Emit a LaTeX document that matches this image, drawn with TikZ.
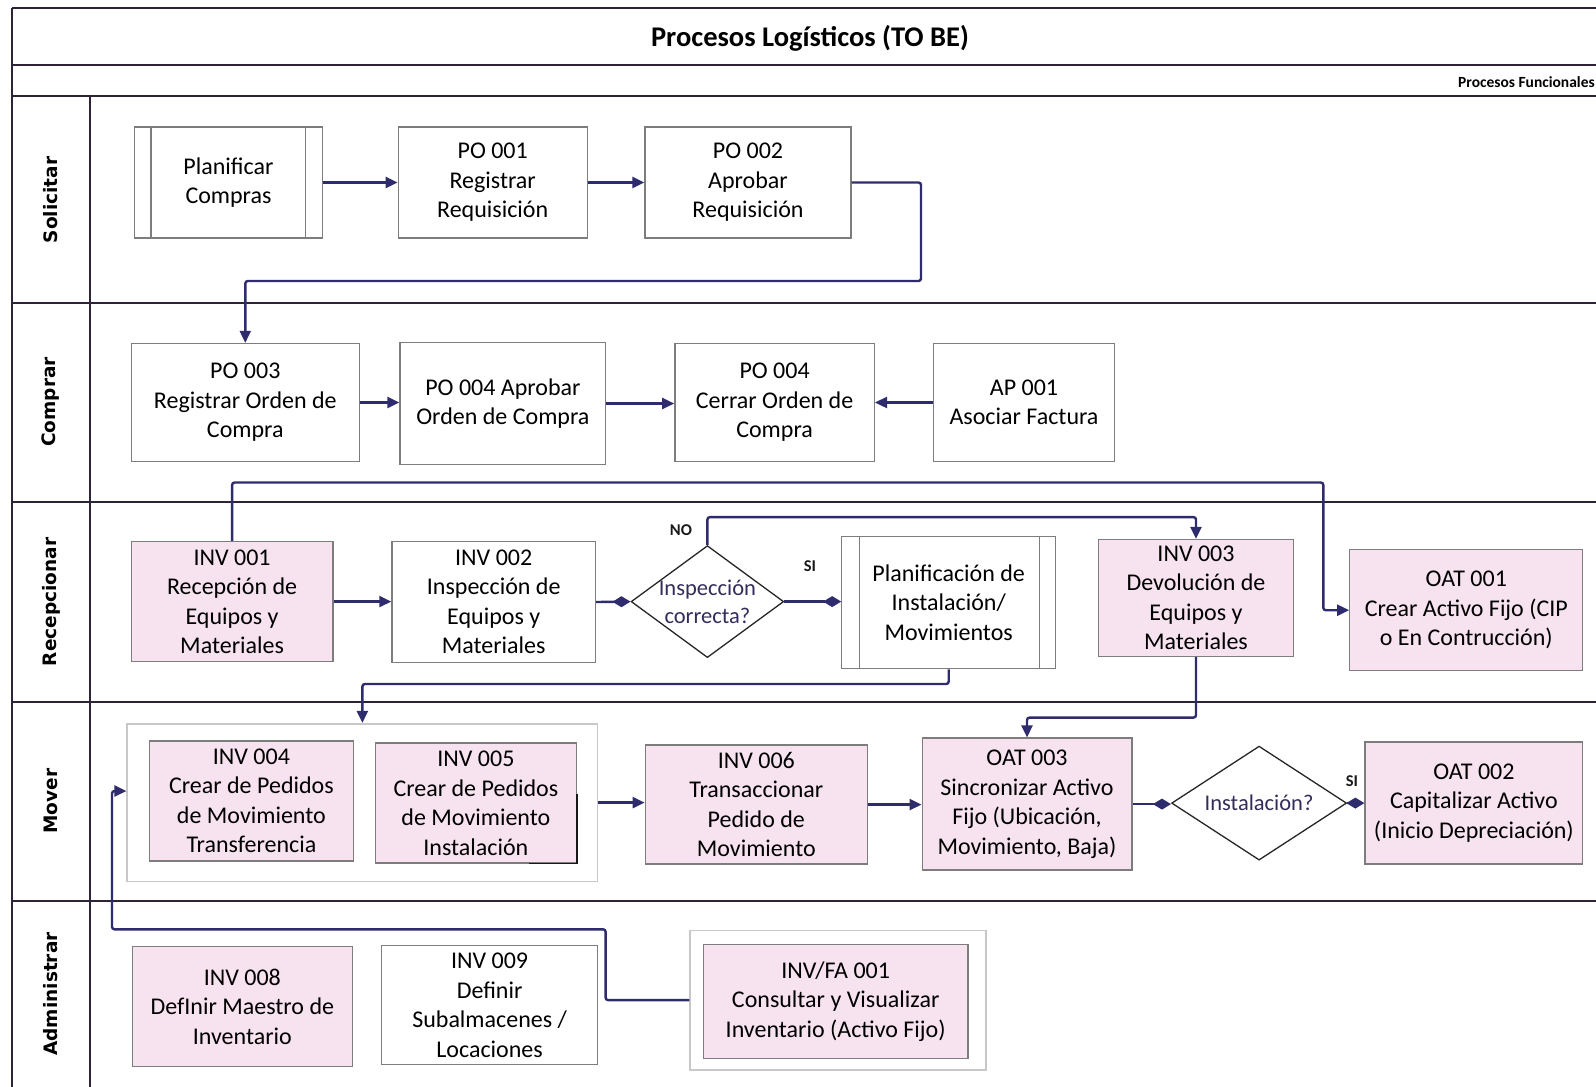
\documentclass[tikz,border=0pt]{standalone}
\usepackage{fontspec}
\setmainfont{Carlito}
\newfontfamily\lanefont{DejaVu Sans}
\usetikzlibrary{arrows.meta,shapes.geometric}

\definecolor{laneline}{RGB}{45,35,55}
\definecolor{navy}{RGB}{47,44,110}
\definecolor{boxgray}{RGB}{125,125,125}
\definecolor{pinkfill}{RGB}{247,227,239}
\definecolor{grpgray}{RGB}{200,200,200}
\definecolor{dtextcol}{RGB}{50,45,90}

\begin{document}
\begin{tikzpicture}[x=1pt,y=-1pt,
  lane/.style={draw=laneline,line width=2.4pt},
  conn/.style={draw=navy,line width=2.4pt,rounded corners=2.5pt},
  arr/.style={conn,-{Triangle[length=12pt,width=11pt]}},
  blob/.style={conn,-{Diamond[length=18pt,width=11pt]}},
  proc/.style={draw=boxgray,line width=1.3pt,fill=white,inner sep=0pt,
    align=center,font=\fontsize{24}{29.5}\selectfont},
  pinkproc/.style={proc,fill=pinkfill},
  frame/.style={draw=grpgray,line width=1.6pt,fill=white,inner sep=0pt},
  decision/.style={diamond,draw=black!85,line width=1.3pt,fill=white,inner sep=0pt},
  dtext/.style={align=center,text=dtextcol,font=\fontsize{22.5}{27.5}\selectfont},
  lanelabel/.style={rotate=90,font=\lanefont\bfseries\fontsize{18.5}{21}\selectfont},
  flag/.style={font=\bfseries\fontsize{16.5}{18}\selectfont,text=black!90}
]
\useasboundingbox (0,0) rectangle (1596,1087);
\begin{scope}
\clip (0,0) rectangle (1596,1087);

% ---- swimlane frame ----
\draw[lane] (12,8) -- (1596,8);
\draw[lane] (12,65) -- (1596,65);
\draw[lane] (12,96) -- (1596,96);
\draw[lane] (12,303) -- (1596,303);
\draw[lane] (12,502) -- (1596,502);
\draw[lane] (12,702) -- (1596,702);
\draw[lane] (12,901) -- (1596,901);
\draw[lane] (12,8) -- (12,1087);
\draw[lane] (90,96) -- (90,1087);

\node[font=\bfseries\fontsize{28.5}{32}\selectfont] (title) at (810,38.5) {Procesos Logísticos (TO BE)};
\node[anchor=west,font=\bfseries\fontsize{15.5}{18}\selectfont,inner sep=0pt] (subtitle) at (1458,82.5) {Procesos Funcionales};

\node[lanelabel] (l1) at (51,200) {Solicitar};
\node[lanelabel] (l2) at (51,402) {Comprar};
\node[lanelabel] (l3) at (51,602) {Recepcionar};
\node[lanelabel] (l4) at (51,801) {Mover};
\node[lanelabel] (l5) at (51,994) {Administrar};

% ---- Solicitar ----
\node[proc,minimum width=188pt,minimum height=111pt] (plan) at (228.5,182.5) {Planificar\\Compras};
\draw[draw=boxgray,line width=1.3pt] ([xshift=17pt]plan.north west) -- ([xshift=17pt]plan.south west);
\draw[draw=boxgray,line width=1.3pt] ([xshift=-18pt]plan.north east) -- ([xshift=-18pt]plan.south east);
\node[proc,minimum width=189pt,minimum height=111pt] (po1) at (492.7,182.5) {PO 001\\Registrar\\Requisición};
\node[proc,minimum width=206pt,minimum height=111pt] (po2) at (748,182.5) {PO 002\\Aprobar\\Requisición};

% ---- Comprar ----
\node[proc,minimum width=228pt,minimum height=118pt] (po3) at (245.3,402.5) {PO 003\\Registrar Orden de\\Compra};
\node[proc,minimum width=205.7pt,minimum height=122pt] (po4a) at (502.9,403.5) {PO 004 Aprobar\\Orden de Compra};
\node[proc,minimum width=199.5pt,minimum height=118pt] (po4c) at (774.6,402.5) {PO 004\\Cerrar Orden de\\Compra};
\node[proc,minimum width=181.2pt,minimum height=118pt] (ap1) at (1024,402.5) {AP 001\\Asociar Factura};

% ---- Recepcionar ----
\node[pinkproc,minimum width=201.6pt,minimum height=120pt] (inv1) at (232.1,601.6) {INV 001\\Recepción de\\Equipos y\\Materiales};
\node[proc,minimum width=203.6pt,minimum height=121pt] (inv2) at (493.7,602) {INV 002\\Inspección de\\Equipos y\\Materiales};
\node[decision,minimum width=152.6pt,minimum height=112pt] (d1) at (707.4,601.6) {};
\node[dtext] (d1t) at (d1) {Inspección\\correcta?};
\node[proc,minimum width=213.8pt,minimum height=132.4pt] (plan2) at (948.7,602.6) {Planificación de\\Instalación/\\Movimientos};
\draw[draw=boxgray,line width=1.3pt] ([xshift=18pt]plan2.north west) -- ([xshift=18pt]plan2.south west);
\draw[draw=boxgray,line width=1.3pt] ([xshift=-17pt]plan2.north east) -- ([xshift=-17pt]plan2.south east);
\node[pinkproc,minimum width=195.5pt,minimum height=117pt] (inv3) at (1196,598) {INV 003\\Devolución de\\Equipos y\\Materiales};
\node[pinkproc,minimum width=233pt,minimum height=121pt] (oat1) at (1466.3,610.2) {OAT 001\\Crear Activo Fijo (CIP\\o En Contrucción)};
\node[flag] (no) at (681,530) {NO};
\node[flag] (si1) at (810,566) {SI};

% ---- Mover ----
\node[frame,minimum width=470.3pt,minimum height=157.8pt] (grp) at (362.4,802.6) {};
\node[pinkproc,minimum width=203.6pt,minimum height=120pt] (inv4) at (251.4,801) {INV 004\\Crear de Pedidos\\de Movimiento\\Transferencia};
\node[pinkproc,minimum width=200.5pt,minimum height=120pt] (inv5) at (475.9,803.1) {INV 005\\Crear de Pedidos\\de Movimiento\\Instalación};
\draw[black!90,line width=1.4pt] ([yshift=-52pt]inv5.north east) -- (inv5.south east) -- ([xshift=-48pt]inv5.south east);
\node[pinkproc,minimum width=222pt,minimum height=119pt] (inv6) at (756.3,804.6) {INV 006\\Transaccionar\\Pedido de\\Movimiento};
\node[pinkproc,minimum width=209.7pt,minimum height=132pt] (oat3) at (1027,804.1) {OAT 003\\Sincronizar Activo\\Fijo (Ubicación,\\Movimiento, Baja)};
\node[decision,minimum width=175pt,minimum height=114pt] (d2) at (1259.1,803.1) {};
\node[dtext] (d2t) at (d2) {Instalación?};
\node[pinkproc,minimum width=217.8pt,minimum height=122pt] (oat2) at (1473.9,803.1) {OAT 002\\Capitalizar Activo\\(Inicio Depreciación)};
\node[flag] (si2) at (1352,781) {SI};

% ---- Administrar ----
\node[pinkproc,minimum width=220pt,minimum height=120pt] (inv8) at (242.3,1006.7) {INV 008\\DefInir Maestro de\\Inventario};
\node[proc,minimum width=215.8pt,minimum height=119pt] (inv9) at (489.6,1005.2) {INV 009\\Definir\\Subalmacenes /\\Locaciones};
\node[frame,minimum width=296pt,minimum height=139.4pt] (invfabg) at (838.2,1000.1) {};
\node[pinkproc,minimum width=264.6pt,minimum height=114pt] (invfa) at (835.7,1001.6) {INV/FA 001\\Consultar y Visualizar\\Inventario (Activo Fijo)};

% ---- connectors ----
\coordinate (c1) at (921,281);
\coordinate (c2) at (1323.3,482.5);
\coordinate (noy) at (0,517.1);
\coordinate (c4) at (949,684);
\coordinate (c5) at (1196,717.6);
\coordinate (c6) at (605.6,929.3);
\coordinate (c7) at (112,791);

\draw[arr] (plan.east) -- (po1.west);
\draw[arr] (po1.east) -- (po2.west);
\draw[arr] (po2.east) -| (c1) -| (po3.north);

\draw[arr] (po3.east) -- (po3.east -| po4a.west);
\draw[arr] (po4a.east) -- (po4a.east -| po4c.west);
\draw[arr] (ap1.west) -- (po4c.east);

\draw[arr] (inv1.north) |- (c2) |- (oat1.west);
\draw[arr] (inv1.east) -- (inv1.east -| inv2.west);
\draw[blob] (inv2.east) -- (d1.west);
\draw[blob] (d1.east) -- (d1.east -| plan2.west);
\draw[arr] (d1.north) -- (d1.north |- noy) -| (inv3.north);
\draw[arr] (plan2.south) -- (plan2.south |- c4) -| (grp.north);
\draw[arr] (inv3.south) -- (inv3.south |- c5) -| (oat3.north);

\draw[arr] (grp.east) -- (grp.east -| inv6.west);
\draw[arr] (inv6.east) -- (inv6.east -| oat3.west);
\draw[blob] (oat3.east) -- (oat3.east -| d2.west);
\draw[blob] (d2.east) -- (d2.east -| oat2.west);

\draw[arr] (invfabg.west) -| (c6) -| (c7) -- (grp.west |- c7);
\end{scope}
\end{tikzpicture}
\end{document}
